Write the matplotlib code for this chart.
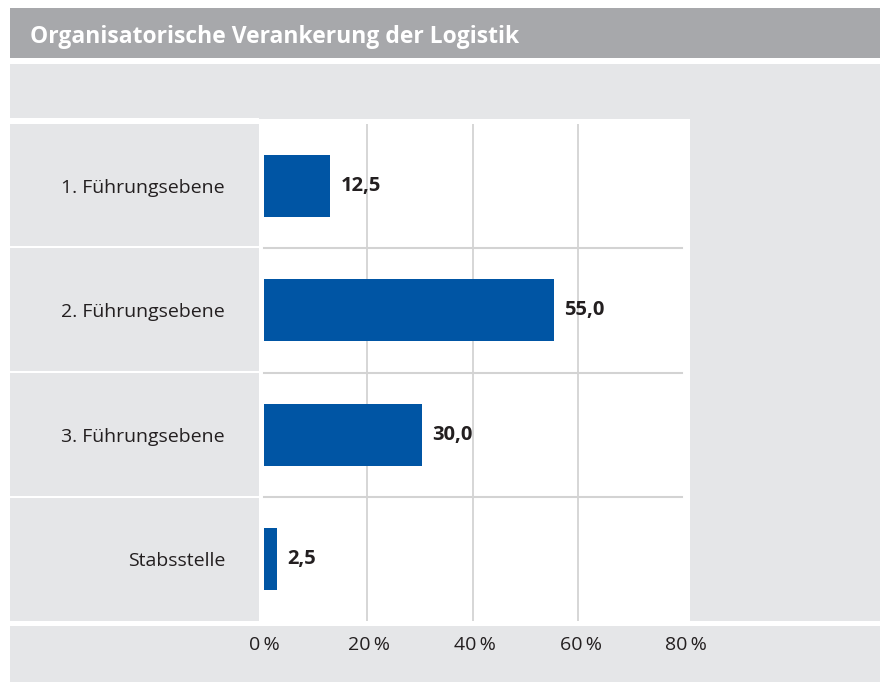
import matplotlib.pyplot as plt
from matplotlib.patches import Rectangle

# Daten
kategorien = ['1. Führungsebene', '2. Führungsebene', '3. Führungsebene', 'Stabsstelle']
werte = [12.5, 55.0, 30.0, 2.5]
x_ticks = [0, 20, 40, 60, 80]
x_tick_labels = ['0\u2009%', '20\u2009%', '40\u2009%', '60\u2009%', '80\u2009%']
titel = 'Organisatorische Verankerung der Logistik'

BLAU = '#0055a4'
GRAU_HELL = '#e5e6e8'
GRAU_TITEL = '#a7a8ab'
GRID = '#d3d3d3'
TEXT = '#231f20'

plt.rcParams['font.family'] = ['Open Sans', 'DejaVu Sans']

W, H = 885, 682
fig = plt.figure(figsize=(W / 100, H / 100), dpi=100)
fig.patch.set_facecolor('white')


def rect(x0, y0, x1, y1, color, z=0):
    # Pixelkoordinaten (oben links) -> Figurenkoordinaten
    fig.add_artist(Rectangle((x0 / W, 1 - y1 / H), (x1 - x0) / W, (y1 - y0) / H,
                             transform=fig.transFigure, facecolor=color,
                             edgecolor='none', zorder=z))


# Hintergrundflaechen
rect(10, 8, 880, 58, GRAU_TITEL)
rect(10, 64, 880, 682, GRAU_HELL)
rect(10, 118, 259, 124, 'white')
rect(259, 119, 690, 621, 'white')
rect(10, 621, 880, 626, 'white')
for yy in [247, 372, 497]:
    rect(10, yy - 1, 259, yy + 1, 'white')

fig.text(30 / W, 1 - 37 / H, titel, color='white', fontsize=16.5,
         fontweight='bold', va='center', ha='left')

# Achse: 0 % bei x=264, 80 % bei x=686
ax = fig.add_axes([264 / W, 1 - 621 / H, (686 - 264) / W, (621 - 124) / H])
ax.set_facecolor('none')
ax.set_zorder(2)

pos = list(range(len(kategorien)))
ax.barh(pos, werte, height=0.5, color=BLAU, zorder=3)
ax.set_xlim(0, 80)
ax.set_ylim(len(kategorien) - 0.5, -0.5)

for p, v in zip(pos, werte):
    ax.annotate(f'{v:.1f}'.replace('.', ','), (v, p), xytext=(7.5, 0),
                textcoords='offset points', va='center', ha='left',
                fontsize=14.5, fontweight='bold', color=TEXT)

# Gitterlinien
for xv in x_ticks[1:-1]:
    ax.axvline(xv - 0.4, color=GRID, lw=1.3, zorder=1)
for yv in [0.5, 1.5, 2.5]:
    ax.plot([0, 79.2], [yv, yv], color=GRID, lw=1.5, zorder=1, clip_on=False)

ax.set_yticks(pos)
ax.set_yticklabels(kategorien, fontsize=14, color=TEXT)
ax.set_xticks(x_ticks)
ax.set_xticklabels(x_tick_labels, fontsize=14, color=TEXT)
ax.tick_params(axis='y', length=0, pad=28)
ax.tick_params(axis='x', length=0, pad=11)
for s in ax.spines.values():
    s.set_visible(False)

fig.savefig('out.png', dpi=100, facecolor='white')
